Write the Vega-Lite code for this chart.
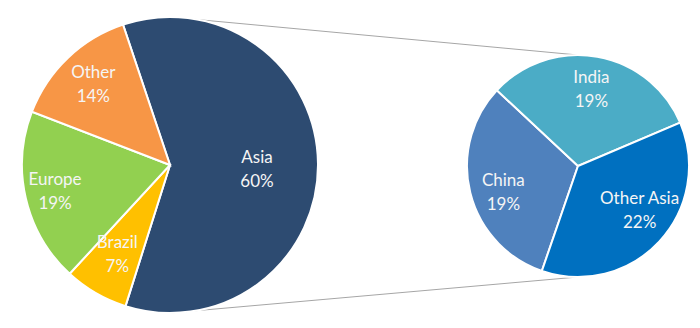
{
  "$schema": "https://vega.github.io/schema/vega-lite/v6.json",
  "width": 700,
  "height": 328,
  "autosize": {"type": "fit", "contains": "padding"},
  "padding": 0,
  "background": "white",
  "config": {"view": {"stroke": null}, "text": {"font": "Lato", "fontSize": 17, "lineHeight": 24, "lineBreak": "\n", "color": "#F5F5F5"}},
  "datasets": {
    "regions": [
      {"chart": "All regions", "region": "Asia", "pct": 60},
      {"chart": "All regions", "region": "Brazil", "pct": 7},
      {"chart": "All regions", "region": "Europe", "pct": 19},
      {"chart": "All regions", "region": "Other", "pct": 14}
    ],
    "asia": [
      {"chart": "Asia", "region": "China", "pct": 19},
      {"chart": "Asia", "region": "India", "pct": 19},
      {"chart": "Asia", "region": "Other Asia", "pct": 22}
    ],
    "connectors": [
      {"from": "All regions", "to": "Asia", "edge": "top"},
      {"from": "All regions", "to": "Asia", "edge": "bottom"}
    ]
  },
  "layer": [
    {
      "data": {"name": "connectors"},
      "transform": [{"filter": "datum.edge === 'top'"}],
      "mark": {"type": "rule", "color": "#A6A6A6", "strokeWidth": 1},
      "encoding": {
        "x": {"field": "from", "type": "nominal", "scale": {"type": "point", "domain": ["All regions", "Asia"], "range": [170, 578], "padding": 0}, "axis": null},
        "x2": {"field": "to"},
        "y": {"value": 17},
        "y2": {"value": 55}
      }
    },
    {
      "data": {"name": "connectors"},
      "transform": [{"filter": "datum.edge === 'bottom'"}],
      "mark": {"type": "rule", "color": "#A6A6A6", "strokeWidth": 1},
      "encoding": {
        "x": {"field": "from", "type": "nominal", "axis": null},
        "x2": {"field": "to"},
        "y": {"value": 313},
        "y2": {"value": 277}
      }
    },
    {
      "data": {"name": "regions"},
      "transform": [{"calculate": "datum.region + '\\n' + datum.pct + '%'", "as": "label"}],
      "encoding": {
        "theta": {"field": "pct", "type": "quantitative", "stack": true, "scale": {"range": [-0.322886, 5.960299]}},
        "order": {"field": "region", "type": "nominal", "sort": "ascending"},
        "x": {"field": "chart", "type": "nominal", "axis": null},
        "y": {"field": "chart", "type": "nominal", "axis": null, "scale": {"type": "point", "domain": ["All regions", "Asia"], "range": [165, 166], "padding": 0}}
      },
      "layer": [
        {
          "mark": {"type": "arc", "outerRadius": 148, "stroke": "white", "strokeWidth": 2},
          "encoding": {
            "color": {"field": "region", "type": "nominal", "legend": null,
              "scale": {"domain": ["Asia", "Brazil", "Europe", "Other", "China", "India", "Other Asia"],
                        "range": ["#2D4B71", "#FFC000", "#92D050", "#F79646", "#4F81BD", "#4BACC6", "#0070C0"]}}
          }
        },
        {
          "mark": {"type": "text", "radius": 87, "dy": -6},
          "encoding": {"text": {"condition": {"test": "datum.region === 'Asia'", "field": "label"}, "value": ""}}
        },
        {
          "mark": {"type": "text", "radius": 111, "dy": -12},
          "encoding": {"text": {"condition": {"test": "datum.region === 'Other'", "field": "label"}, "value": ""}}
        },
        {
          "mark": {"type": "text", "radius": 118, "dy": -12},
          "encoding": {"text": {"condition": {"test": "datum.region === 'Europe'", "field": "label"}, "value": ""}}
        },
        {
          "mark": {"type": "text", "radius": 105, "dy": -13},
          "encoding": {"text": {"condition": {"test": "datum.region === 'Brazil'", "field": "label"}, "value": ""}}
        }
      ]
    },
    {
      "data": {"name": "asia"},
      "transform": [{"calculate": "datum.region + '\\n' + datum.pct + '%'", "as": "label"}],
      "encoding": {
        "theta": {"field": "pct", "type": "quantitative", "stack": true, "scale": {"range": [3.473205, 9.75639]}},
        "order": {"field": "region", "type": "nominal", "sort": "ascending"},
        "x": {"field": "chart", "type": "nominal", "axis": null},
        "y": {"field": "chart", "type": "nominal", "axis": null}
      },
      "layer": [
        {
          "mark": {"type": "arc", "outerRadius": 111, "stroke": "white", "strokeWidth": 2},
          "encoding": {
            "color": {"field": "region", "type": "nominal", "legend": null}
          }
        },
        {
          "mark": {"type": "text", "radius": 77, "dy": -12},
          "encoding": {"text": {"condition": {"test": "datum.region === 'India'", "field": "label"}, "value": ""}}
        },
        {
          "mark": {"type": "text", "radius": 79, "dx": 2, "dy": -4},
          "encoding": {"text": {"condition": {"test": "datum.region === 'China'", "field": "label"}, "value": ""}}
        },
        {
          "mark": {"type": "text", "radius": 76, "dx": 6, "dy": -19},
          "encoding": {"text": {"condition": {"test": "datum.region === 'Other Asia'", "field": "label"}, "value": ""}}
        }
      ]
    }
  ],
  "resolve": {"scale": {"theta": "independent"}}
}
